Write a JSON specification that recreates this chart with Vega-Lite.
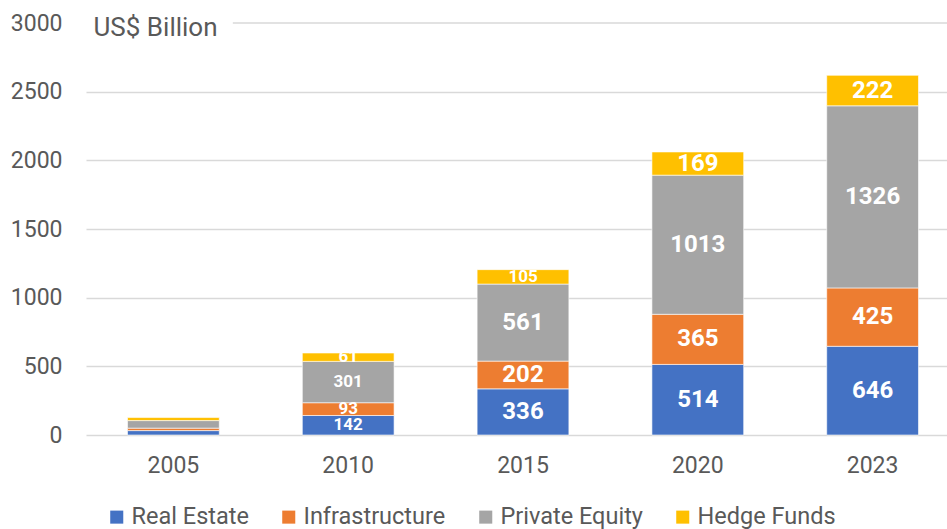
{
  "$schema": "https://vega.github.io/schema/vega-lite/v6.json",
  "width": 874,
  "height": 412,
  "padding": {"left": 86, "top": 23, "right": 0, "bottom": 94},
  "autosize": {"type": "none"},
  "background": "white",
  "config": {"view": {"stroke": null}, "font": "Roboto"},
  "data": {"values": [
    {"year": "2005", "type": "Real Estate", "value": 32},
    {"year": "2005", "type": "Infrastructure", "value": 18},
    {"year": "2005", "type": "Private Equity", "value": 55},
    {"year": "2005", "type": "Hedge Funds", "value": 22},
    {"year": "2010", "type": "Real Estate", "value": 142},
    {"year": "2010", "type": "Infrastructure", "value": 93},
    {"year": "2010", "type": "Private Equity", "value": 301},
    {"year": "2010", "type": "Hedge Funds", "value": 61},
    {"year": "2015", "type": "Real Estate", "value": 336},
    {"year": "2015", "type": "Infrastructure", "value": 202},
    {"year": "2015", "type": "Private Equity", "value": 561},
    {"year": "2015", "type": "Hedge Funds", "value": 105},
    {"year": "2020", "type": "Real Estate", "value": 514},
    {"year": "2020", "type": "Infrastructure", "value": 365},
    {"year": "2020", "type": "Private Equity", "value": 1013},
    {"year": "2020", "type": "Hedge Funds", "value": 169},
    {"year": "2023", "type": "Real Estate", "value": 646},
    {"year": "2023", "type": "Infrastructure", "value": 425},
    {"year": "2023", "type": "Private Equity", "value": 1326},
    {"year": "2023", "type": "Hedge Funds", "value": 222}
  ]},
  "transform": [
    {"calculate": "indexof(['Real Estate','Infrastructure','Private Equity','Hedge Funds'], datum.type)", "as": "ord"},
    {"stack": "value", "groupby": ["year"], "sort": [{"field": "ord"}], "as": ["v0", "v1"]},
    {"calculate": "(datum.v0 + datum.v1) / 2", "as": "mid"}
  ],
  "layer": [
    {
      "mark": {"type": "bar", "width": {"band": 0.525}, "stroke": "white", "strokeWidth": 0.6},
      "encoding": {
        "x": {"field": "year", "type": "nominal", "scale": {"paddingInner": 0, "paddingOuter": 0},
              "axis": {"title": null, "labelAngle": 0, "labelFontSize": 23, "labelColor": "#595959", "domain": false, "ticks": false, "labelPadding": 19, "labelFont": "Roboto"}},
        "y": {"field": "v0", "type": "quantitative", "scale": {"domain": [0, 3000]},
              "axis": {"values": [0, 500, 1000, 1500, 2000, 2500, 3000], "format": "d", "labelFontSize": 23, "labelColor": "#595959", "domain": false, "ticks": false, "labelPadding": 24, "gridColor": "#d9d9d9", "gridWidth": 1.3,
                       "gridOpacity": {"condition": {"test": "datum.value === 3000", "value": 0}, "value": 1},
                       "title": "US$ Billion", "titleAngle": 0, "titleAlign": "left", "titleBaseline": "middle", "titleX": 7, "titleY": 4, "titleFontSize": 26, "titleFontWeight": "normal", "titleColor": "#595959", "titleFont": "Roboto"}},
        "y2": {"field": "v1"},
        "color": {"field": "type", "type": "nominal",
                  "scale": {"domain": ["Real Estate", "Infrastructure", "Private Equity", "Hedge Funds"], "range": ["#4472C4", "#ED7D31", "#A5A5A5", "#FFC000"]},
                  "legend": {"title": null, "orient": "none", "direction": "horizontal", "legendX": 19, "legendY": 482, "symbolType": "square", "symbolSize": 170, "symbolStrokeWidth": 0, "labelFontSize": 23.5, "labelColor": "#595959", "columnPadding": 28, "labelOffset": 3, "labelFont": "Roboto"}}
      }
    },
    {
      "data": {"values": [{"a": "2005", "b": "2023", "y": 3000}]},
      "mark": {"type": "rule", "color": "#d9d9d9", "strokeWidth": 1.3},
      "encoding": {
        "x": {"field": "a", "type": "nominal", "bandPosition": 0.84},
        "x2": {"field": "b", "bandPosition": 1},
        "y": {"field": "y", "type": "quantitative"}
      }
    },
    {
      "transform": [{"filter": "datum.year !== '2005'"}],
      "mark": {"type": "text", "color": "white", "fontWeight": "bold", "font": "Roboto", "baseline": "middle"},
      "encoding": {
        "x": {"field": "year", "type": "nominal"},
        "y": {"field": "mid", "type": "quantitative"},
        "text": {"field": "value", "type": "quantitative"},
        "size": {"condition": {"test": "datum.year === '2010' || datum.value < 110", "value": 17}, "value": 24}
      }
    }
  ]
}
